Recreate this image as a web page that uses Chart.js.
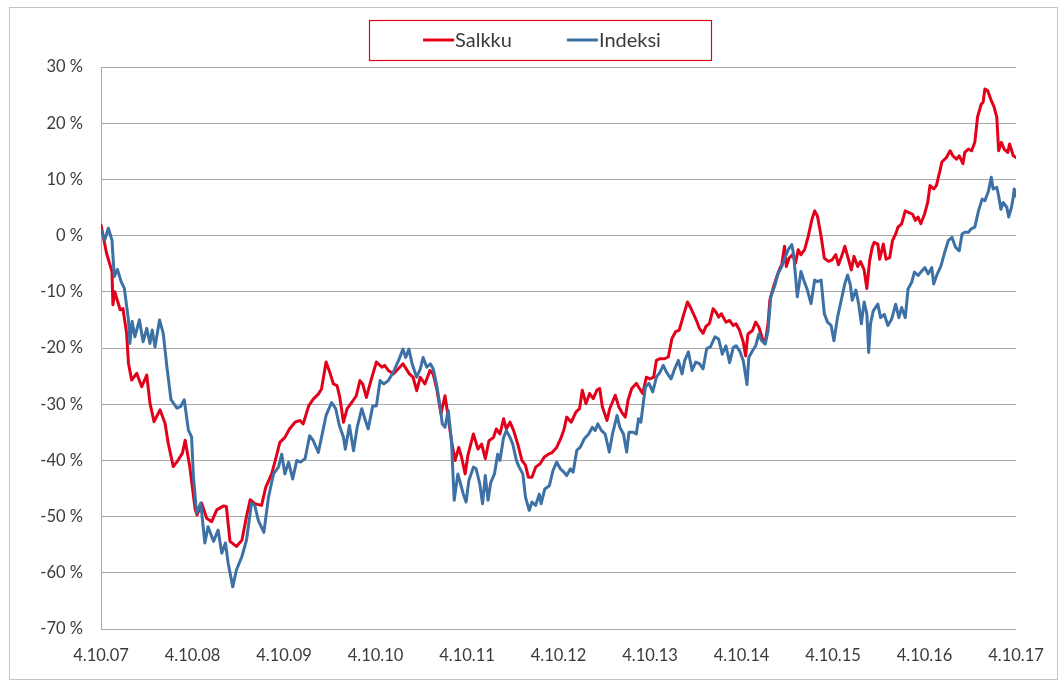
<!DOCTYPE html>
<html>
<head>
<meta charset="utf-8">
<script src="https://cdn.jsdelivr.net/npm/chart.js@4.4.1/dist/chart.umd.min.js"></script>
<style>
html,body{margin:0;padding:0;background:#fff;}
#wrap{position:relative;width:1060px;height:681px;}
</style>
</head>
<body>
<div id="wrap"><canvas id="c" width="1060" height="681"></canvas></div>
<script>
// ---- data ----
const xLabels = ['4.10.07','4.10.08','4.10.09','4.10.10','4.10.11','4.10.12','4.10.13','4.10.14','4.10.15','4.10.16','4.10.17'];
const yMin = -70, yMax = 30, yStep = 10;
const seriesNames = ['Salkku', 'Indeksi'];

// time in years from 4.10.07
const salkkuX = [0.00,0.06,0.12,0.13,0.15,0.21,0.24,0.28,0.30,0.335,0.39,0.445,0.50,0.535,0.58,0.645,0.70,0.735,0.79,0.845,0.89,0.92,0.97,1.03,1.05,1.10,1.155,1.21,1.265,1.34,1.37,1.41,1.48,1.54,1.59,1.63,
1.68,1.755,1.80,1.865,1.90,1.955,2.01,2.06,2.12,2.175,2.21,2.27,2.32,2.375,2.41,2.46,2.50,2.54,2.58,2.61,2.65,2.69,2.74,2.79,2.83,2.86,2.90,2.95,3.01,3.07,3.10,3.14,3.195,3.25,3.30,
3.37,3.41,3.45,3.49,3.54,3.595,3.63,3.67,3.715,3.76,3.795,3.83,3.87,3.91,3.94,3.98,4.01,4.07,4.12,4.16,4.20,4.24,4.29,4.32,4.36,4.40,4.43,4.47,4.51,4.56,4.60,4.64,4.67,4.71,4.75,4.80,4.845,4.89,4.93,4.98,5.03,
5.06,5.09,5.14,5.19,5.23,5.26,5.30,5.34,5.38,5.42,5.45,5.48,5.53,5.56,5.62,5.66,5.69,5.73,5.76,5.80,5.85,5.885,5.92,5.96,6.00,6.04,6.07,6.11,6.16,6.20,6.24,6.28,6.32,6.36,6.41,6.44,6.50,6.54,6.58,6.61,6.65,6.69,6.72,
6.75,6.78,6.83,6.87,6.91,6.94,6.98,7.02,7.045,7.07,7.12,7.155,7.19,7.23,7.26,7.29,7.31,7.35,7.38,7.42,7.44,7.47,7.49,7.52,7.56,7.59,7.62,7.65,7.69,7.73,7.77,7.80,7.83,7.87,7.905,7.95,7.99,8.03,8.06,8.10,8.13,8.17,8.20,8.23,8.27,8.30,8.34,8.37,
8.40,8.43,8.45,8.49,8.51,8.55,8.58,8.62,8.65,8.685,8.71,8.75,8.79,8.83,8.87,8.90,8.93,8.96,9.00,9.035,9.06,9.10,9.13,9.17,9.19,9.24,9.28,9.31,9.35,9.38,9.42,9.44,9.48,9.515,9.55,9.58,9.62,9.64,9.66,9.69,9.73,9.76,9.79,9.81,9.84,9.87,9.91,9.93,9.97,10.0];
const salkkuY = [1.9,-3.1,-6.4,-12.3,-10,-13.2,-13,-17.4,-22.7,-25.7,-24.5,-26.9,-24.8,-29.8,-33.1,-31,-33.4,-37,-41.1,-39.9,-38.7,-36.4,-41.1,-48.8,-49.7,-47.6,-50.3,-50.9,-48.8,-48.1,-48.2,-54.4,-55.3,-54.2,-50,-47,
-47.7,-48,-44.8,-42.4,-40.3,-36.8,-35.9,-34.4,-33.2,-32.9,-33.5,-30.3,-29.1,-28.2,-27.3,-22.5,-24.3,-26.4,-26.7,-28.8,-33.2,-30.8,-29.7,-28.5,-25.8,-26.4,-28.8,-25.8,-22.5,-23.4,-23.1,-24,-24.6,-23.7,-22.8,
-24.6,-25.2,-27.6,-25.2,-26.4,-24,-24.6,-27.3,-31.7,-28.5,-32.3,-36.5,-40,-37.7,-39.4,-42.4,-39.1,-35.3,-38,-37.1,-39.7,-36.5,-35.9,-34.4,-35.3,-32.6,-34.4,-33.2,-34.7,-37.4,-40,-40.9,-43,-43,-41.2,-40.6,-39.4,-38.9,-38.6,-37.7,-35.9,
-34.5,-32.3,-33.2,-31.4,-30.8,-27.5,-29.9,-28.1,-29,-27.5,-27.2,-30.5,-32.9,-30.8,-28.4,-30.5,-31.4,-32.3,-29.3,-27.2,-26.3,-27.2,-28.1,-25.2,-25.5,-25.2,-22.2,-21.9,-21.9,-21.6,-18.3,-17.1,-16.8,-14.5,-11.8,-12.7,-14.8,-16.5,-17.4,-16.2,-15.6,-13,-13.6,
-14.5,-13.9,-15.4,-15.1,-16,-15.7,-16.9,-19,-21.4,-17.5,-16.9,-15.4,-16.3,-18.4,-19,-15.7,-11.5,-9.1,-7.6,-5.8,-5.2,-1.9,-5.5,-4,-3.4,-4.9,-2.5,-3.4,-2.5,-0.1,2.9,4.4,3.5,-0.1,-4,-4.6,-4.3,-3.4,-5.2,-3.4,-1.9,-4.3,-6.1,-3.7,-5.5,-4.6,-6.1,-9.4,
-4.5,-2,-1.2,-1.5,-4.2,-1.5,-4.2,-3.9,-0.9,0.3,1.5,2.1,4.4,4.1,3.8,2.7,3.3,2.1,3.8,5.9,8.9,8.3,8.9,11.6,13.1,13.9,15.1,14.2,13.6,14.2,12.8,14.8,15.4,15.1,16.6,21.1,23.4,23.7,26.1,25.8,24,22.9,21.1,15.1,16.6,15.4,14.8,16.3,14.2,13.9];

const indeksiX = [0.00,0.04,0.08,0.12,0.145,0.18,0.22,0.255,0.30,0.315,0.34,0.37,0.42,0.46,0.50,0.535,0.56,0.59,0.64,0.68,0.72,0.765,0.83,0.87,0.91,0.955,0.99,1.01,1.045,1.09,1.135,1.17,1.23,1.28,1.32,1.36,1.39,1.44,1.48,1.54,1.59,1.645,
1.68,1.72,1.78,1.83,1.885,1.94,1.975,2.01,2.05,2.095,2.14,2.18,2.23,2.28,2.32,2.375,2.41,2.46,2.52,2.565,2.605,2.65,2.67,2.715,2.76,2.80,2.85,2.89,2.92,2.97,3.01,3.05,3.09,3.14,3.195,3.25,3.30,3.33,3.365,
3.40,3.45,3.49,3.52,3.56,3.60,3.63,3.67,3.705,3.73,3.76,3.795,3.83,3.86,3.90,3.93,3.96,3.99,4.02,4.07,4.10,4.14,4.17,4.20,4.23,4.26,4.30,4.335,4.36,4.40,4.43,4.47,4.50,4.54,4.57,4.61,4.64,4.68,4.71,4.75,4.79,4.81,4.85,4.90,4.94,4.98,5.02,
5.06,5.09,5.13,5.16,5.20,5.24,5.28,5.33,5.37,5.40,5.43,5.47,5.51,5.555,5.59,5.64,5.67,5.71,5.745,5.77,5.82,5.85,5.875,5.90,5.95,5.99,6.03,6.07,6.11,6.145,6.18,6.23,6.27,6.31,6.35,6.38,6.42,6.46,6.50,6.54,6.58,6.62,6.66,6.71,6.75,
6.79,6.83,6.87,6.91,6.94,6.98,7.02,7.06,7.08,7.12,7.155,7.19,7.22,7.26,7.29,7.32,7.36,7.40,7.44,7.475,7.51,7.55,7.57,7.61,7.65,7.68,7.72,7.76,7.80,7.83,7.87,7.905,7.94,7.98,8.01,8.05,8.09,8.13,8.16,8.19,8.21,8.25,8.28,8.31,8.34,8.37,8.39,
8.41,8.44,8.49,8.52,8.56,8.60,8.64,8.685,8.72,8.75,8.79,8.82,8.86,8.89,8.93,8.96,9.005,9.04,9.08,9.10,9.14,9.18,9.22,9.26,9.30,9.34,9.38,9.41,9.44,9.48,9.51,9.55,9.59,9.63,9.66,9.70,9.73,9.75,9.79,9.81,9.835,9.86,9.90,9.92,9.95,9.97,9.98,10.0];
const indeksiY = [1,-0.8,1.3,-0.8,-7.3,-6,-8.2,-9.4,-15,-19.2,-15.3,-18,-15,-18.9,-16.5,-19.2,-16.8,-19.8,-15,-17.4,-23.3,-29.2,-30.7,-30.4,-29.2,-34.6,-35.8,-42.9,-49.4,-47.6,-54.7,-51.8,-54.4,-52.4,-56.5,-54.7,-58.3,-62.5,-59.5,-57.1,-54.2,-47.6,
-48,-50.7,-52.8,-46.6,-42.4,-41.2,-38.9,-42.4,-40.3,-43.3,-40,-40.3,-39.7,-35.6,-36.5,-38.6,-35.9,-32,-29.7,-30.8,-33.8,-35.9,-38,-33.8,-38.3,-34.1,-30.8,-32.9,-34.4,-30.3,-30.3,-25.8,-26.4,-25.8,-24.3,-22.3,-20.2,-21.7,-20.2,
-22.8,-25.2,-23.7,-21.7,-23.4,-22.8,-23.7,-26.7,-30.3,-33.5,-34.1,-31.1,-36.5,-47.1,-42.4,-44.2,-46,-47.4,-43.6,-41.2,-41.5,-44.2,-47.7,-42.7,-47.1,-43.9,-42.4,-38.9,-40,-35.9,-34.7,-35.9,-37.1,-40,-41.2,-42.4,-46.6,-48.9,-47.4,-48,-46,-47.7,-45.1,-44.5,-41.8,-40.3,-41.5,
-42.1,-42.7,-41.5,-42.1,-38.2,-37.6,-36.2,-35.3,-34.1,-34.7,-33.5,-34.7,-35.3,-38.5,-35.3,-32,-34.1,-35.3,-38.5,-35,-35,-35.3,-32.6,-33.2,-26.9,-26.3,-27.8,-25.2,-24.3,-23.1,-24.3,-25.5,-23.7,-22.2,-24.6,-22.2,-20.7,-24,-22.5,-22.8,-23.7,-20.1,-19.8,-18,-18.4,
-21.1,-19.6,-22.6,-19.9,-19.6,-20.5,-22.3,-26.5,-21.7,-20.5,-19.6,-17.5,-18.7,-19.3,-16.9,-10.9,-9.1,-6.7,-5.5,-4,-2.5,-1.6,-3.4,-10.9,-6.4,-7.9,-9.7,-12.1,-7.9,-8.2,-7.9,-13.9,-15.4,-16,-18.7,-14.5,-11.5,-8.5,-7,-8.8,-11.5,-9.7,-12.1,-15.7,-11.8,-13.9,-20.8,
-15.7,-13.4,-12.2,-14.6,-14,-16,-14.9,-12.2,-14.6,-12.8,-14.6,-9.5,-8.3,-6.5,-7.1,-6.5,-5.7,-6.8,-5.7,-8.6,-6.8,-5.4,-3,-0.9,-0.3,-2.1,-2.7,0.3,0.6,0.6,1.2,1.5,4.4,6.5,6.2,8,10.4,8.3,8.6,7.1,4.7,5.9,5,3.3,5,6.8,8.3,7];

// ---- chart ----
const pts = (xs, ys) => xs.map((x, i) => ({x: x, y: ys[i]}));
const RED = '#e2001a', BLUE = '#3d71a5', GRID = '#a9a9a9', TXT = '#3b3b3b';
const FONT = 'Lato, "Open Sans", sans-serif';

const decor = {
  id: 'decor',
  beforeDraw(chart) {
    const ctx = chart.ctx;
    ctx.save();
    ctx.fillStyle = '#fff';
    ctx.fillRect(0, 0, chart.width, chart.height);
    ctx.strokeStyle = '#c4c4c4';
    ctx.lineWidth = 1;
    ctx.strokeRect(9.5, 7.5, 1048, 672);
    ctx.restore();
  },
  afterDraw(chart) {
    const ctx = chart.ctx;
    ctx.save();
    // legend box
    ctx.strokeStyle = RED;
    ctx.lineWidth = 1.2;
    ctx.strokeRect(369.5, 20.5, 342, 40);
    ctx.font = '20px ' + FONT;
    ctx.textBaseline = 'middle';
    const sample = 32, gap = 55;
    const ds = chart.data.datasets;
    const widths = ds.map(d => sample + ctx.measureText(d.label).width);
    const total = widths.reduce((a, b) => a + b, 0) + gap * (ds.length - 1);
    let x = 542 - total / 2;
    const y = 40;
    ds.forEach((d, i) => {
      ctx.strokeStyle = d.borderColor;
      ctx.lineWidth = 3;
      ctx.beginPath();
      ctx.moveTo(x, y);
      ctx.lineTo(x + sample - 1, y);
      ctx.stroke();
      ctx.fillStyle = TXT;
      ctx.fillText(d.label, x + sample, y + 1);
      x += widths[i] + gap;
    });
    ctx.restore();
  }
};

new Chart(document.getElementById('c'), {
  type: 'line',
  data: {
    datasets: [
      {label: seriesNames[0], data: pts(salkkuX, salkkuY), borderColor: RED, backgroundColor: RED, order: 2},
      {label: seriesNames[1], data: pts(indeksiX, indeksiY), borderColor: BLUE, backgroundColor: BLUE, order: 1}
    ]
  },
  options: {
    responsive: false,
    animation: false,
    devicePixelRatio: 1,
    layout: {padding: {left: 0, top: 67, right: 44, bottom: 0}},
    elements: {
      line: {borderWidth: 3, tension: 0, borderJoinStyle: 'round', borderCapStyle: 'round'},
      point: {radius: 0, hoverRadius: 0}
    },
    plugins: {legend: {display: false}, tooltip: {enabled: false}},
    scales: {
      x: {
        type: 'linear', min: 0, max: xLabels.length - 1,
        grid: {display: false, drawTicks: false},
        border: {display: false},
        ticks: {
          stepSize: 1, autoSkip: false, maxRotation: 0, padding: 17,
          color: TXT, font: {family: FONT, size: 16.5},
          callback: (v) => xLabels[Math.round(v)]
        },
        afterFit: (s) => { s.height = 52; s.paddingLeft = 0; s.paddingRight = 0; }
      },
      y: {
        min: yMin, max: yMax,
        grid: {color: GRID, lineWidth: 1, drawTicks: false},
        border: {display: true, color: GRID, width: 1},
        ticks: {
          stepSize: yStep, padding: 18, color: TXT, font: {family: FONT, size: 16.5},
          callback: (v) => v + ' %'
        },
        afterFit: (s) => { s.width = 101; s.paddingTop = 0; s.paddingBottom = 0; }
      }
    }
  },
  plugins: [decor]
});
</script>
</body>
</html>
